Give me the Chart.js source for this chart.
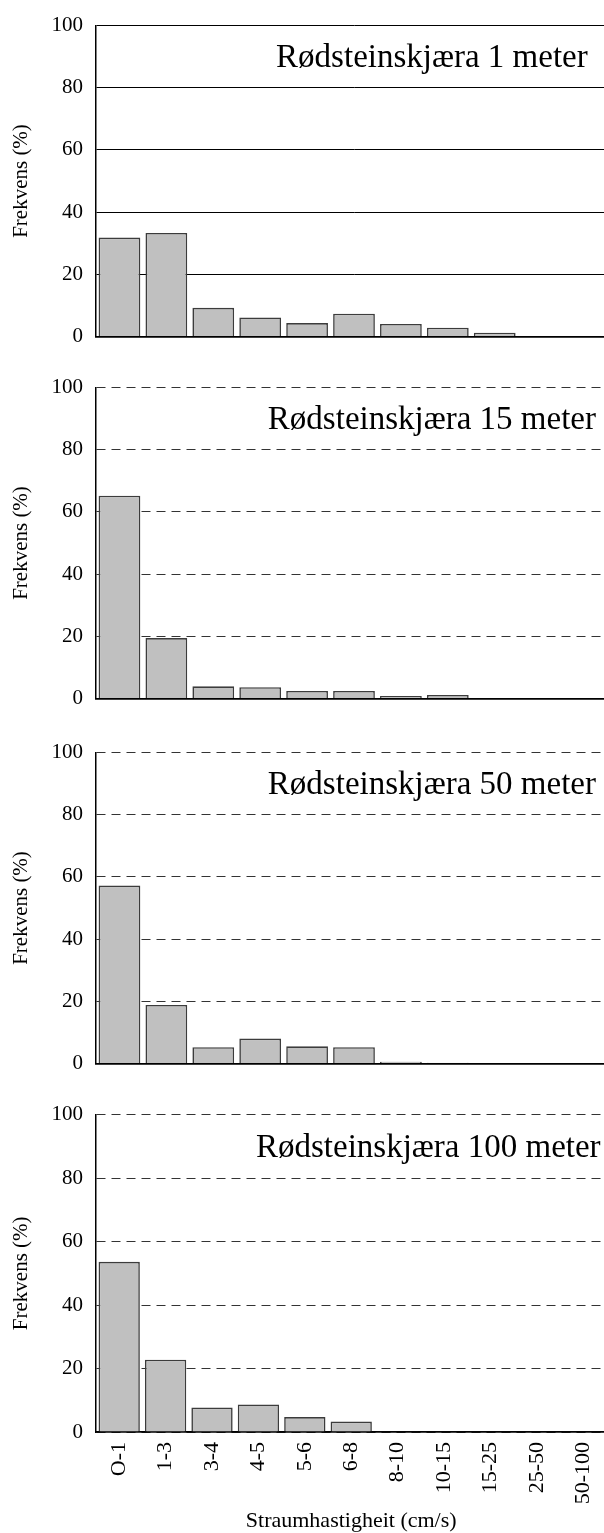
<!DOCTYPE html>
<html>
<head>
<meta charset="utf-8">
<script src="https://cdn.jsdelivr.net/npm/chart.js@4"></script>
<style>
  html, body { margin: 0; padding: 0; background: #fff; overflow: hidden; }
  #wrap { position: relative; width: 604px; height: 1533px; overflow: hidden; }
  canvas { position: absolute; left: 0; }
</style>
</head>
<body>
<div id="wrap">
  <canvas id="p1" width="620" height="362" style="top:0px"></canvas>
  <canvas id="p2" width="620" height="362" style="top:362px"></canvas>
  <canvas id="p3" width="620" height="362" style="top:727px"></canvas>
  <canvas id="p4" width="620" height="444" style="top:1089px"></canvas>
</div>
<script>
"use strict";

// speed classes (cm/s)
const categories = ['O-1', '1-3', '3-4', '4-5', '5-6', '6-8', '8-10', '10-15', '15-25', '25-50', '50-100'];

// frequency (%) per depth
const depth1m   = [31.8, 33.3, 9.2, 6.1, 4.3, 7.3, 4.0, 2.8, 1.2, 0, 0];
const depth15m  = [65.2, 19.4, 3.9, 3.6, 2.4, 2.4, 0.8, 1.1, 0.1, 0.1, 0.1];
const depth50m  = [57.2, 18.8, 5.2, 8.0, 5.5, 5.2, 0.5, 0.2, 0.1, 0.1, 0.1];
const depth100m = [53.6, 22.8, 7.7, 8.7, 4.7, 3.3, 0.1, 0.1, 0.1, 0.1, 0.1];

const titles = ['Rødsteinskjæra 1 meter', 'Rødsteinskjæra 15 meter',
                'Rødsteinskjæra 50 meter', 'Rødsteinskjæra 100 meter'];

const yMin = 0, yMax = 100, yStep = 20;

Chart.defaults.font.family = '"Liberation Serif", "Times New Roman", serif';
Chart.defaults.color = '#000';

// big label inside each panel
const panelTitle = {
  id: 'panelTitle',
  afterDatasetsDraw(chart, args, opts) {
    const {ctx, chartArea, scales} = chart;
    ctx.save();
    ctx.font = '33px "Liberation Serif", serif';
    ctx.fillStyle = '#000';
    ctx.textAlign = 'center';
    ctx.textBaseline = 'middle';
    ctx.fillText(opts.text, chartArea.left + chartArea.width * 0.651, scales.y.getPixelForValue(89.5));
    ctx.restore();
  }
};

function makePanel(id, values, title, solid, showX) {
  new Chart(document.getElementById(id), {
    type: 'bar',
    data: {
      labels: categories,
      datasets: [{
        data: values,
        backgroundColor: '#c0c0c0',
        borderColor: '#3c3c3c',
        borderWidth: 1.6,
        barPercentage: 0.89,
        categoryPercentage: 1.0
      }]
    },
    plugins: [panelTitle],
    options: {
      responsive: false,
      animation: false,
      layout: { padding: { left: 0, right: 8, top: 21, bottom: showX ? 0 : 19 } },
      plugins: {
        legend: { display: false },
        tooltip: { enabled: false },
        panelTitle: { text: title }
      },
      scales: {
        x: {
          grid: { display: false, drawTicks: false },
          border: { display: true, color: '#000', width: 1.8 },
          ticks: {
            display: showX,
            autoSkip: false,
            minRotation: 90,
            maxRotation: 90,
            padding: 10,
            font: { size: 22 }
          },
          title: {
            display: showX,
            text: 'Straumhastigheit (cm/s)',
            font: { size: 22 },
            padding: { top: 0, bottom: -1 }
          },
          afterFit: (scale) => { scale.height = showX ? 101 : 0; }
        },
        y: {
          min: yMin,
          max: yMax,
          grid: { color: solid ? '#000' : '#333', lineWidth: 1, drawTicks: false },
          border: { display: true, color: '#000', width: 1.5, dash: solid ? [] : [9, 6] },
          ticks: { stepSize: yStep, padding: 13, font: { size: 21 } },
          title: {
            display: true,
            text: 'Frekvens (%)',
            font: { size: 21 },
            padding: { top: 9, bottom: 0 }
          },
          afterFit: (scale) => { scale.width = 96; }
        }
      }
    }
  });
}

makePanel('p1', depth1m, titles[0], true, false);
makePanel('p2', depth15m, titles[1], false, false);
makePanel('p3', depth50m, titles[2], false, false);
makePanel('p4', depth100m, titles[3], false, true);
</script>
</body>
</html>
